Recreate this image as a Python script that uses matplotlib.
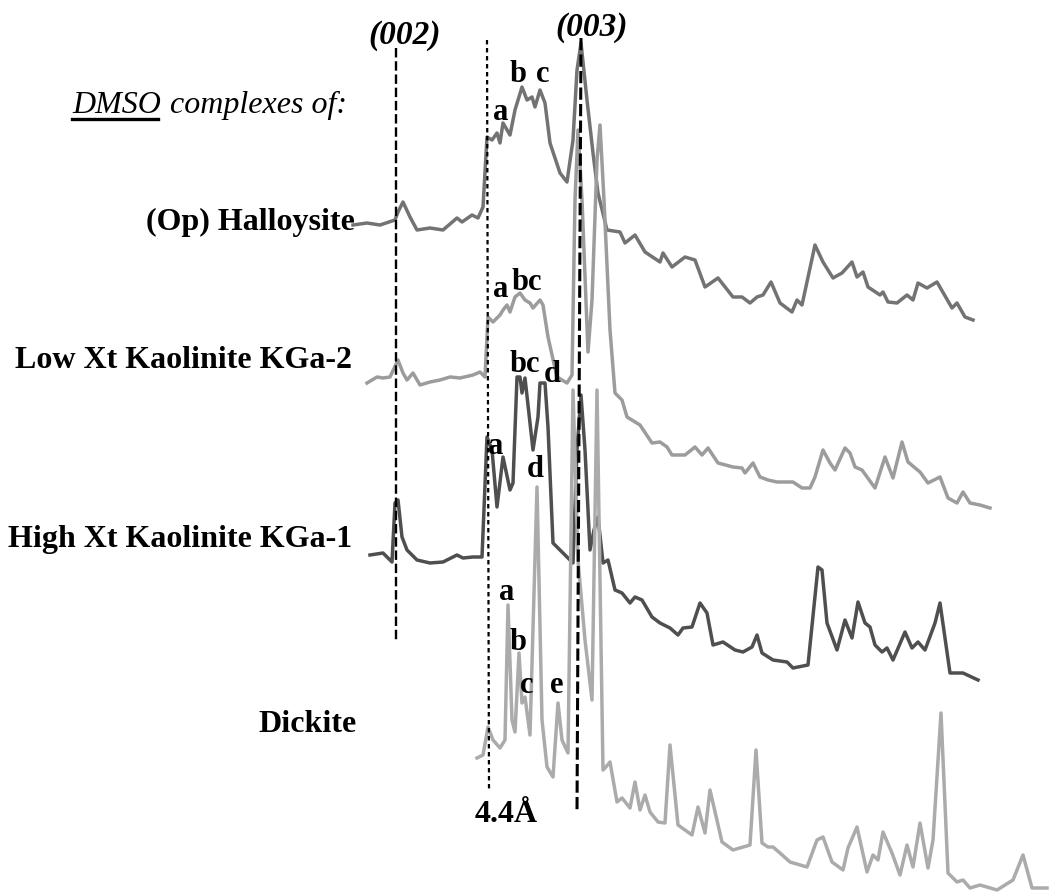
import matplotlib
matplotlib.use("Agg")
import matplotlib.pyplot as plt

# traces: position along the pattern and height (px above the bottom edge)
H = 896

hal_x = [353, 367, 380, 395, 398, 403, 410, 417, 430, 443, 457, 462, 472, 478, 483, 487, 492, 497,
         500, 503, 510, 515, 522, 527, 532, 535, 540, 545, 550, 560, 567, 573, 577, 581, 587, 593,
         598, 607, 620, 625, 635, 645, 660, 663, 672, 685, 695, 705, 718, 733, 742, 750, 757, 763,
         771, 780, 792, 797, 802, 815, 823, 833, 842, 852, 857, 863, 868, 880, 883, 888, 897, 907,
         913, 918, 927, 937, 952, 957, 965, 973]
hal_y = [225, 223, 225, 220, 212, 202, 217, 230, 228, 230, 218, 222, 215, 218, 207, 137, 140, 133,
         143, 123, 135, 110, 87, 100, 97, 107, 90, 103, 143, 173, 182, 140, 70, 43, 100, 153,
         193, 230, 232, 243, 235, 252, 262, 253, 267, 257, 260, 287, 278, 297, 297, 303, 297, 295,
         282, 303, 312, 300, 305, 245, 262, 278, 273, 262, 277, 272, 287, 295, 292, 302, 303, 295,
         300, 283, 288, 282, 308, 303, 317, 320]

low_x = [367, 377, 383, 390, 398, 403, 407, 413, 420, 430, 440, 450, 460, 473, 480, 485, 488, 493,
         500, 503, 507, 510, 515, 520, 525, 530, 533, 540, 543, 548, 557, 567, 572, 575, 578, 582,
         588, 592, 597, 600, 604, 610, 615, 622, 627, 640, 652, 660, 667, 672, 685, 695, 702, 708,
         718, 733, 742, 745, 753, 760, 768, 777, 793, 802, 810, 815, 823, 830, 835, 845, 850, 855,
         862, 875, 885, 893, 902, 908, 920, 928, 940, 948, 957, 963, 970, 980, 990]
low_y = [383, 377, 378, 377, 360, 373, 380, 373, 385, 382, 380, 377, 378, 375, 372, 377, 317, 322,
         315, 310, 305, 312, 297, 293, 300, 303, 308, 300, 305, 337, 377, 383, 375, 200, 130, 200,
         352, 300, 160, 125, 200, 330, 393, 400, 417, 425, 443, 442, 447, 455, 455, 447, 455, 448,
         463, 467, 468, 473, 463, 477, 480, 482, 482, 488, 488, 477, 450, 463, 470, 448, 453, 467,
         470, 488, 457, 478, 442, 462, 472, 483, 477, 498, 503, 492, 503, 505, 508]

high_x = [370, 383, 392, 395, 398, 402, 407, 417, 430, 443, 457, 463, 473, 482, 487, 492, 497, 503,
          510, 513, 517, 520, 522, 525, 530, 533, 538, 540, 545, 548, 553, 567, 573, 577, 581, 585,
          590, 594, 598, 603, 608, 615, 622, 630, 635, 642, 652, 660, 670, 678, 683, 692, 700, 707,
          713, 723, 735, 743, 752, 757, 762, 773, 787, 793, 798, 808, 818, 822, 827, 837, 845, 852,
          858, 865, 870, 875, 882, 887, 893, 905, 912, 918, 925, 935, 940, 950, 963, 978]
high_y = [555, 553, 562, 503, 500, 537, 550, 560, 563, 562, 555, 558, 557, 557, 437, 450, 507, 457,
          490, 483, 377, 377, 393, 378, 423, 450, 417, 383, 383, 427, 543, 557, 563, 450, 395, 450,
          550, 530, 517, 563, 560, 590, 593, 603, 597, 600, 617, 623, 628, 635, 628, 627, 603, 613,
          645, 642, 650, 652, 647, 635, 653, 660, 662, 668, 667, 665, 567, 570, 623, 650, 620, 638,
          602, 623, 627, 645, 652, 648, 660, 632, 648, 642, 650, 623, 603, 673, 673, 680]

dic_x = [477, 483, 488, 493, 500, 505, 508, 512, 515, 519, 522, 525, 530, 537, 542, 547, 553, 558,
         562, 568, 573, 578, 585, 592, 597, 603, 605, 610, 617, 622, 630, 635, 640, 645, 650, 658,
         665, 670, 678, 692, 698, 705, 710, 722, 733, 750, 756, 762, 768, 773, 780, 790, 807, 817,
         823, 832, 843, 848, 857, 867, 873, 878, 883, 892, 900, 907, 913, 920, 928, 933, 941, 948,
         957, 963, 970, 980, 997, 1013, 1023, 1032, 1047]
dic_y = [758, 755, 727, 740, 748, 740, 605, 720, 732, 653, 703, 697, 735, 487, 720, 767, 777, 703,
         740, 753, 390, 560, 640, 700, 390, 770, 768, 762, 802, 798, 808, 782, 810, 795, 812, 822,
         823, 745, 825, 835, 807, 833, 790, 842, 850, 845, 750, 843, 847, 847, 853, 862, 867, 840,
         837, 862, 870, 848, 827, 872, 855, 860, 832, 853, 875, 845, 867, 823, 868, 840, 713, 873,
         882, 880, 888, 885, 890, 880, 855, 888, 888]

# reference lines: (x_top, y_top, x_bottom, y_bottom)
line_002 = (396, 48, 396, 640)
line_44 = (487, 40, 489, 790)
line_003 = (581, 38, 577, 812)

sample_names = ["(Op) Halloysite", "Low Xt Kaolinite KGa-2", "High Xt Kaolinite KGa-1", "Dickite"]
name_pos = [(355, 230), (352, 368), (352, 547), (357, 732)]

peak_letters = [("a", 501, 112), ("b", 518, 74), ("c", 543, 74),
                ("a", 501, 289), ("bc", 527, 282),
                ("bc", 525, 364), ("d", 552, 374), ("a", 496, 446), ("d", 535, 469),
                ("a", 507, 592), ("b", 518, 642), ("c", 527, 685), ("e", 557, 685)]

plt.rcParams["font.family"] = ["Liberation Serif", "DejaVu Serif"]

fig = plt.figure(figsize=(10.49, 8.96), dpi=100)
ax = fig.add_axes([0, 0, 1, 1])
ax.set_xlim(0, 1049)
ax.set_ylim(0, H)
ax.axis("off")

def up(ys):
    return [H - v for v in ys]

lw = 2.5
ax.plot(hal_x, up(hal_y), color="#737373", lw=lw, solid_joinstyle="round", zorder=2)
ax.plot(low_x, up(low_y), color="#9c9c9c", lw=lw, solid_joinstyle="round", zorder=2)
ax.plot(high_x, up(high_y), color="#4f4f4f", lw=lw, solid_joinstyle="round", zorder=3)
ax.plot(dic_x, up(dic_y), color="#ababab", lw=lw, solid_joinstyle="round", zorder=4)

for ln, ls, w in [(line_002, (0, (4, 1.6)), 1.7), (line_44, (0, (2, 1.6)), 1.6), (line_003, (0, (4, 1.4)), 2.2)]:
    ax.plot([ln[0], ln[2]], [H - ln[1], H - ln[3]], color="black", lw=w, linestyle=ls, zorder=5)

bold = dict(fontweight="bold", color="black")
for name, (x, y) in zip(sample_names, name_pos):
    ax.text(x, H - y, name, ha="right", va="baseline", fontsize=23, **bold)

for s, x, y in peak_letters:
    ax.text(x, H - y, s, ha="center", va="center", fontsize=22, zorder=6, **bold)

ax.text(405, H - 35, "(002)", ha="center", va="center", fontsize=24, style="italic", **bold)
ax.text(592, H - 27, "(003)", ha="center", va="center", fontsize=24, style="italic", **bold)
ax.text(506, H - 822, "4.4Å", ha="center", va="baseline", fontsize=23, **bold)

# "DMSO complexes of:" with underlined DMSO
t1 = ax.text(72, H - 113, "DMSO", ha="left", va="baseline", fontsize=23, style="italic", color="black")
fig.canvas.draw()
bb = t1.get_window_extent().transformed(ax.transData.inverted())
ax.text(bb.x1 + 9, H - 113, "complexes of:", ha="left", va="baseline", fontsize=23,
        style="italic", color="black")
ax.plot([bb.x0, bb.x1 - 3], [H - 119, H - 119], color="black", lw=2.4)

fig.savefig("out.png", dpi=100)
